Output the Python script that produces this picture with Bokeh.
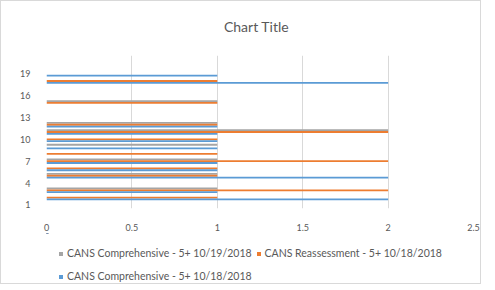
from bokeh.plotting import figure
from bokeh.models import Range1d, FixedTicker, Legend, LegendItem, ColumnDataSource, Label
from bokeh.layouts import column
from bokeh.transform import dodge
from bokeh.embed import file_html
from bokeh.resources import INLINE

# ---- data ----
categories = list(range(1, 22))
gray_vals   = [0, 0, 1, 0, 1, 0, 1, 0, 1, 0, 2, 1, 0, 0, 1, 0, 0, 0, 0, 0, 0]
orange_vals = [0, 1, 2, 0, 1, 1, 2, 1, 0, 1, 2, 1, 0, 0, 1, 0, 0, 1, 0, 0, 0]
blue_vals   = [0, 2, 1, 0, 2, 1, 1, 0, 1, 1, 1, 1, 0, 0, 0, 0, 0, 2, 1, 0, 0]
series_cols = ["gray", "orange", "blue"]
series_names = [
    "CANS Comprehensive - 5+ 10/19/2018",
    "CANS Reassessment - 5+ 10/18/2018",
    "CANS Comprehensive - 5+ 10/18/2018",
]
series_colors = ["#A5A5A5", "#ED7D31", "#5B9BD5"]
title_text = "Chart Title"
x_ticks = [0, 0.5, 1, 1.5, 2, 2.5]
x_tick_labels = ["0", "0.5", "1", "1.5", "2", "2.5"]
y_ticks = [1, 4, 7, 10, 13, 16, 19]

FONT = "Lato"
TXT = "#595959"
W = 479

src = ColumnDataSource(dict(cat=categories, gray=gray_vals, orange=orange_vals, blue=blue_vals))
offsets = [0.25, 0.0, -0.25]
bh = 0.25


def strip(height, yr):
    f = figure(width=W, height=height, output_backend="svg", toolbar_location=None,
               x_range=Range1d(0, 427), y_range=yr,
               min_border_left=45, min_border_right=7, min_border_top=0, min_border_bottom=0)
    f.axis.visible = False
    f.grid.visible = False
    f.outline_line_color = None
    return f


# ---- title strip ----
t = strip(40, Range1d(0, 40))
t.add_layout(Label(x=210, y=15, text=title_text, text_align="center", text_baseline="middle",
                   text_font=FONT, text_font_size="14px", text_color=TXT))

# ---- main chart ----
p = figure(width=W, height=192, output_backend="svg", toolbar_location=None,
           x_range=Range1d(0, 2.5), y_range=Range1d(0.5, 21.5),
           min_border_left=45, min_border_right=7, min_border_top=14, min_border_bottom=22)
for col, off, color in zip(series_cols, offsets, series_colors):
    p.hbar(y=dodge("cat", off, range=p.y_range), right=col, left=0, height=bh,
           fill_color=color, line_color=None, source=src)

p.outline_line_color = None
p.ygrid.grid_line_color = None
p.xgrid.grid_line_color = "#d9d9d9"
p.xgrid.ticker = FixedTicker(ticks=x_ticks)
p.xaxis.ticker = FixedTicker(ticks=x_ticks)
p.xaxis.major_label_overrides = {tk: lb for tk, lb in zip(x_ticks, x_tick_labels)}
p.yaxis.ticker = FixedTicker(ticks=y_ticks)
for ax in (p.xaxis, p.yaxis):
    ax.axis_line_color = None
    ax.major_tick_line_color = None
    ax.minor_tick_line_color = None
    ax.major_label_text_font = FONT
    ax.major_label_text_font_size = "9px"
    ax.major_label_text_color = TXT
p.xaxis.major_label_standoff = 9
p.yaxis.major_label_standoff = 10

# ---- legend strip (keys drawn from the same data, outside the visible range) ----
q = strip(50, Range1d(-3, -2))
keys = [q.hbar(y=dodge("cat", off), right=col, left=0, height=bh,
               fill_color=color, line_color=None, source=src)
        for col, off, color in zip(series_cols, offsets, series_colors)]

common = dict(orientation="horizontal", glyph_width=5, glyph_height=5, label_height=10,
              label_standoff=4, spacing=4, padding=0, margin=0, border_line_color=None,
              background_fill_alpha=0, label_text_font=FONT,
              label_text_font_size="10.5px", label_text_color=TXT)
leg_a = Legend(items=[LegendItem(label=series_names[0], renderers=[keys[0]]),
                      LegendItem(label=series_names[1], renderers=[keys[1]])],
               location=(12, 24), **common)
leg_b = Legend(items=[LegendItem(label=series_names[2], renderers=[keys[2]])],
               location=(12, 1), **common)
q.add_layout(leg_a, "center")
q.add_layout(leg_b, "center")

page = column(t, p, q, spacing=0, styles={"border": "1px solid #d9d9d9"})

open("out.html", "w").write(file_html(page, INLINE))
